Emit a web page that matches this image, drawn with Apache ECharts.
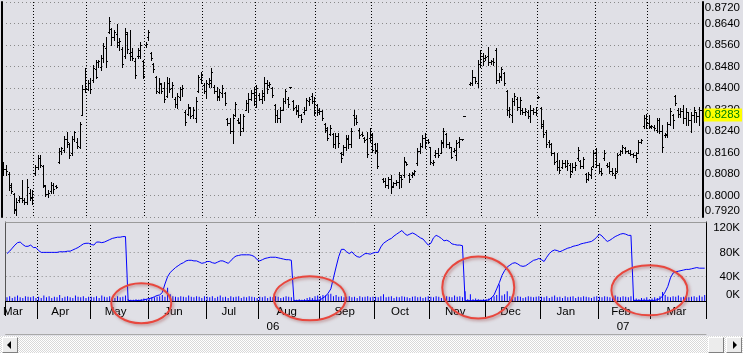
<!DOCTYPE html>
<html>
<head>
<meta charset="utf-8">
<script src="https://cdn.jsdelivr.net/npm/echarts@6/dist/echarts.min.js"></script>
<style>
html, body { margin: 0; padding: 0; background: #e0e0e6; overflow: hidden; }
#chart { width: 743px; height: 336px; }
#sb { position: relative; width: 743px; height: 17px;
      background-color: #f0f0f0;
      background-image: conic-gradient(#ffffff 25%, #d8d8d8 0 50%, #ffffff 0 75%, #d8d8d8 0);
      background-size: 2px 2px; }
#sb .b { position: absolute; top: 1px; width: 14px; height: 14px; background: #ececec;
         border: 1px solid; border-color: #ffffff #808080 #808080 #ffffff; box-sizing: content-box; }
#sb .b i { position: absolute; top: 3px; width: 0; height: 0; border-top: 4px solid transparent; border-bottom: 4px solid transparent; }
#sb .l i { left: 4px; border-right: 4px solid #000; }
#sb .r i { left: 6px; border-left: 4px solid #000; }
</style>
</head>
<body>
<div id="chart"></div>
<div id="sb">
  <div class="b l" style="left:2px"><i></i></div>
  <div class="b" style="left:708px"></div>
  <div class="b r" style="left:726px"><i></i></div>
</div>
<script>
var months = ['Mar', 'Apr', 'May', 'Jun', 'Jul', 'Aug', 'Sep', 'Oct', 'Nov', 'Dec', 'Jan', 'Feb', 'Mar'];
var monthDays = [12, 20, 22, 22, 20, 23, 21, 21, 21, 21, 22, 20, 21];
var years = ['06', '07'];
var yearFirstMonth = [0, 10];

var priceTicks = { min: 0.792, max: 0.872, step: 0.008 };
var volumeTicks = { min: 0, max: 130, step: 40 };

// open, high, low, close per trading day (null = no trade)
var ohlc = [
  [.8110,.8123,.8075,.8100],[.8100,.8113,.8076,.8090],[.8080,.8088,.8020,.8030],[.8040,.8045,.8008,.8015],
  [.8005,.8010,.7935,.7945],[.7950,.7989,.7927,.7975],[.7985,.7998,.7977,.7990],[.7990,.8057,.7977,.7985],
  [.7985,.7989,.7968,.7975],[.7975,.8063,.7970,.8030],[.8010,.8025,.7983,.7995],[.7990,.8020,.7970,.8005],
  // Apr
  [.8085,.8113,.8076,.8105],[.8105,.8150,.8100,.8140],[.8140,.8150,.8107,.8115],[.8110,.8115,.8030,.8040],
  [.8035,.8040,.7998,.8005],[.8005,.8020,.7995,.8010],[.8015,.8050,.8010,.8040],[.8040,.8048,.8010,.8025],
  [.8035,.8040,.8027,.8030],[.8125,.8175,.8120,.8165],[.8165,.8180,.8155,.8175],[.8170,.8220,.8163,.8210],
  [.8210,.8237,.8182,.8200],[.8190,.8195,.8140,.8150],[.8160,.8220,.8150,.8210],[.8210,.8240,.8203,.8235],
  [.8200,.8215,.8175,.8185],[.8180,.8274,.8175,.8265],[.8300,.8411,.8300,.8395],[.8395,.8473,.8386,.8400],
  // May
  [.8395,.8430,.8393,.8420],[.8420,.8436,.8380,.8395],[.8430,.8485,.8423,.8475],[.8470,.8506,.8437,.8440],
  [.8495,.8506,.8479,.8500],[.8480,.8522,.8467,.8510],[.8510,.8566,.8498,.8555],[.8550,.8591,.8480,.8500],
  [.8610,.8665,.8603,.8650],[.8620,.8622,.8560,.8590],[.8590,.8615,.8578,.8610],[.8600,.8640,.8553,.8570],
  [.8560,.8585,.8541,.8575],[.8545,.8553,.8479,.8490],[.8520,.8622,.8510,.8610],[.8600,.8610,.8530,.8545],
  [.8530,.8615,.8504,.8520],[.8535,.8548,.8505,.8510],[.8500,.8510,.8436,.8450],[.8520,.8548,.8510,.8540],
  [.8520,.8572,.8510,.8560],[.8500,.8504,.8436,.8445],
  // Jun
  [.8560,.8572,.8553,.8565],[.8590,.8615,.8578,.8610],[.8530,.8535,.8504,.8510],[.8490,.8492,.8460,.8470],
  [.8440,.8444,.8380,.8390],[.8385,.8436,.8380,.8420],[.8415,.8417,.8380,.8390],[.8400,.8423,.8349,.8360],
  [.8370,.8442,.8367,.8420],[.8420,.8436,.8386,.8395],[.8400,.8423,.8367,.8410],[.8360,.8367,.8330,.8340],
  [.8340,.8380,.8324,.8370],[.8365,.8405,.8355,.8395],[.8395,.8411,.8370,.8400],[.8310,.8318,.8262,.8275],
  [.8305,.8342,.8300,.8330],[.8325,.8330,.8287,.8295],[.8300,.8330,.8287,.8320],[.8290,.8367,.8275,.8350],
  [.8390,.8448,.8386,.8440],[.8435,.8460,.8417,.8450],
  // Jul
  [.8410,.8417,.8380,.8390],[.8390,.8430,.8361,.8420],[.8415,.8436,.8405,.8430],[.8420,.8473,.8405,.8460],
  [.8405,.8411,.8380,.8390],[.8390,.8405,.8355,.8365],[.8370,.8398,.8355,.8385],[.8380,.8411,.8367,.8400],
  [.8380,.8386,.8336,.8345],[.8285,.8287,.8262,.8270],[.8270,.8287,.8231,.8240],[.8240,.8305,.8194,.8290],
  [.8300,.8349,.8295,.8340],[.8280,.8287,.8268,.8275],[.8270,.8305,.8225,.8240],[.8250,.8305,.8240,.8295],
  [.8320,.8355,.8318,.8345],[.8345,.8380,.8312,.8360],[.8360,.8392,.8355,.8380],[.8380,.8405,.8336,.8350],
  // Aug
  [.8340,.8411,.8330,.8400],[.8375,.8380,.8355,.8360],[.8360,.8392,.8343,.8380],[.8370,.8442,.8355,.8420],
  [.8420,.8430,.8380,.8395],[.8410,.8423,.8405,.8415],[.8400,.8405,.8367,.8375],[.8335,.8342,.8275,.8300],
  [.8300,.8318,.8275,.8290],[.8290,.8330,.8275,.8320],[.8320,.8361,.8318,.8350],[.8350,.8398,.8343,.8390],
  [.8360,.8367,.8330,.8340],[.8402,.8403,.8401,.8402],[.8350,.8355,.8318,.8325],[.8330,.8336,.8305,.8315],
  [.8320,.8336,.8293,.8300],[.8300,.8305,.8275,.8285],[.8310,.8330,.8305,.8320],[.8320,.8361,.8318,.8355],
  [.8350,.8367,.8336,.8360],[.8370,.8380,.8343,.8350],[.8350,.8367,.8300,.8310],
  // Sep
  [.8335,.8342,.8300,.8310],[.8320,.8324,.8305,.8315],[.8315,.8318,.8281,.8290],[.8265,.8269,.8238,.8245],
  [.8250,.8256,.8206,.8215],[.8230,.8262,.8225,.8250],[.8230,.8232,.8181,.8190],[.8190,.8232,.8175,.8220],
  [.8220,.8232,.8181,.8195],[.8160,.8163,.8126,.8140],[.8155,.8188,.8150,.8180],[.8180,.8225,.8169,.8215],
  [.8210,.8225,.8175,.8190],[.8190,.8251,.8181,.8240],[.8300,.8318,.8262,.8290],[.8290,.8300,.8265,.8275],
  [.8245,.8250,.8213,.8225],[.8230,.8237,.8220,.8225],[.8215,.8219,.8200,.8205],[.8210,.8237,.8144,.8155],
  [.8215,.8250,.8200,.8240],
  // Oct
  [.8225,.8231,.8163,.8170],[.8190,.8194,.8157,.8165],[.8170,.8194,.8101,.8110],null,
  [.8060,.8064,.8051,.8055],[.8055,.8064,.8033,.8040],[.8040,.8070,.8027,.8060],[.8060,.8076,.8008,.8030],
  [.8035,.8051,.8033,.8045],[.8045,.8057,.8039,.8050],[.8050,.8088,.8027,.8075],[.8070,.8076,.8033,.8060],
  [.8075,.8144,.8070,.8130],[.8125,.8126,.8113,.8118],[.8075,.8082,.8051,.8060],[.8075,.8088,.8070,.8085],
  [.8080,.8094,.8076,.8090],[.8120,.8175,.8113,.8165],[.8165,.8194,.8157,.8185],[.8185,.8225,.8181,.8215],
  [.8215,.8231,.8175,.8200],
  // Nov
  [.8205,.8212,.8194,.8200],[.8180,.8181,.8119,.8125],[.8120,.8132,.8113,.8125],[.8150,.8169,.8144,.8160],
  [.8160,.8175,.8144,.8150],[.8160,.8206,.8157,.8200],[.8195,.8250,.8181,.8240],[.8230,.8231,.8181,.8190],
  [.8190,.8200,.8175,.8180],[.8180,.8181,.8138,.8145],[.8165,.8175,.8163,.8170],[.8150,.8206,.8132,.8195],
  [.8200,.8219,.8181,.8210],[.8210,.8212,.8206,.8210],[.8296,.8297,.8295,.8296],null,
  [.8415,.8423,.8411,.8420],[.8420,.8467,.8411,.8440],[.8440,.8442,.8417,.8425],[.8420,.8504,.8405,.8490],
  [.8490,.8541,.8479,.8530],
  // Dec
  [.8520,.8529,.8485,.8500],[.8510,.8522,.8504,.8515],[.8520,.8553,.8485,.8495],[.8495,.8504,.8491,.8500],
  [.8500,.8510,.8485,.8495],[.8540,.8547,.8417,.8430],[.8430,.8454,.8423,.8445],[.8440,.8479,.8429,.8470],
  [.8455,.8460,.8411,.8420],[.8390,.8392,.8299,.8320],[.8320,.8330,.8293,.8305],[.8300,.8361,.8275,.8350],
  [.8350,.8380,.8336,.8370],[.8360,.8367,.8318,.8330],[.8330,.8367,.8305,.8355],[.8320,.8324,.8305,.8310],
  [.8310,.8324,.8299,.8315],[.8310,.8318,.8287,.8295],[.8295,.8336,.8275,.8320],[.8320,.8324,.8305,.8310],
  [.8310,.8330,.8299,.8320],
  // Jan
  [.8367,.8370,.8362,.8367],[.8325,.8330,.8250,.8260],[.8265,.8281,.8219,.8230],[.8235,.8243,.8181,.8190],
  [.8200,.8206,.8181,.8190],[.8190,.8194,.8150,.8160],[.8160,.8163,.8119,.8125],[.8130,.8157,.8095,.8105],
  [.8105,.8132,.8082,.8095],[.8105,.8132,.8101,.8120],[.8120,.8132,.8107,.8110],[.8110,.8132,.8095,.8120],
  [.8115,.8120,.8070,.8080],[.8090,.8120,.8088,.8105],[.8105,.8126,.8095,.8115],[.8140,.8181,.8132,.8170],
  [.8130,.8132,.8101,.8110],[.8110,.8144,.8101,.8135],[.8080,.8082,.8051,.8060],[.8060,.8088,.8057,.8080],
  [.8075,.8107,.8064,.8100],[.8110,.8169,.8107,.8160],
  // Feb
  [.8160,.8175,.8107,.8115],[.8115,.8120,.8082,.8090],[.8090,.8101,.8076,.8085],[.8140,.8169,.8132,.8160],
  [.8115,.8120,.8107,.8110],[.8110,.8126,.8082,.8090],[.8090,.8101,.8076,.8085],[.8075,.8101,.8064,.8085],
  [.8090,.8157,.8088,.8150],[.8155,.8169,.8150,.8165],[.8165,.8188,.8157,.8180],[.8175,.8181,.8157,.8165],
  [.8165,.8169,.8157,.8160],[.8160,.8169,.8150,.8155],[.8155,.8157,.8144,.8150],[.8150,.8163,.8126,.8140],
  [.8160,.8206,.8157,.8200],[.8200,.8212,.8194,.8205],[.8260,.8299,.8250,.8290],[.8290,.8305,.8250,.8270],
  // Mar
  [.8270,.8299,.8250,.8260],[.8255,.8262,.8250,.8258],[.8255,.8262,.8243,.8250],[.8245,.8287,.8237,.8280],
  [.8280,.8287,.8231,.8240],[.8240,.8262,.8163,.8180],[.8225,.8231,.8219,.8228],[.8225,.8274,.8219,.8265],
  [.8265,.8324,.8262,.8315],[.8300,.8305,.8250,.8280],[.8370,.8374,.8336,.8345],[.8320,.8324,.8293,.8305],
  [.8305,.8324,.8293,.8315],[.8315,.8336,.8268,.8290],[.8290,.8324,.8262,.8310],[.8310,.8311,.8262,.8280],
  [.8280,.8311,.8237,.8300],[.8300,.8330,.8274,.8320],[.8310,.8311,.8274,.8295],[.8295,.8330,.8262,.8320],
  [.8320,.8330,.8225,.8283]
];

// volume, thousands of contracts
var volume = [
  6,8,5,7,9,6,5,8,7,6,8,5,
  7,5,9,6,8,5,7,6,10,5,7,8,6,5,9,7,6,8,5,7,
  7,6,8,5,9,7,6,8,7,5,8,6,7,9,3,2,2,3,2,3,4,3,
  4,6,6,7,8,10,7,22,11,8,7,6,8,7,6,9,7,6,8,7,5,8,
  7,6,8,5,7,9,6,7,5,8,6,7,8,5,7,6,8,7,6,5,
  7,6,8,5,7,6,8,7,5,6,8,7,6,2,2,3,2,3,5,6,5,8,9,
  8,10,9,11,12,8,10,7,8,6,7,8,6,7,5,8,6,7,8,6,7,
  7,6,8,11,6,7,8,5,7,6,8,7,6,5,7,8,6,7,5,6,8,
  7,6,8,7,5,6,8,7,6,9,7,8,6,16,3,11,3,4,3,2,3,
  3,4,6,8,10,27,9,11,16,8,7,6,8,7,5,6,8,7,6,7,8,
  7,6,8,5,7,9,6,7,5,8,6,7,8,5,7,6,8,7,6,5,7,8,
  7,6,8,7,6,8,9,7,6,8,7,6,8,3,4,3,5,4,6,3,
  4,6,5,8,15,10,7,6,8,7,9,6,7,8,6,7,8,6,9,7,10
];

// open interest, thousands of contracts
var openInterest = [
  78,82,87,92,96,97,93,90,90,92,88,88,
  83,80,80,80,80,80,80,80,81,81,81,82,82,84,86,88,91,94,95,95,
  93,92,97,97,96,97,99,101,103,104,105,105,106,106,1,0.5,0.5,0.5,1,1,2,3,
  4,5,7,9,10,14,28,40,47,51,55,58,61,63,66,67,67,66,66,64,62,63,
  65,65,63,62,64,66,66,64,62,66,71,74,75,76,76,76,76,75,73,68,
  66,68,70,71,72,72,72,71,70,69,68,68,67,0.5,0.5,0.5,0.5,0.5,0.5,1,1,1,1,
  2,5,8,13,20,38,56,73,85,85,81,78,81,76,73,72,75,78,78,77,79,
  80,80,89,95,98,101,103,107,110,113,116,111,108,110,112,110,107,104,102,97,92,
  95,104,108,106,103,99,100,98,94,93,92,92,91,0.5,0.5,0.5,0.5,0.5,1,1,1,
  1,2,5,10,20,30,42,50,56,59,62,63,61,58,57,58,61,64,67,68,70,
  68,65,72,78,82,84,83,81,83,85,87,88,90,91,92,94,95,96,97,98,101,105,
  110,107,102,98,100,103,106,108,110,111,110,108,108,1,1,1,1,1,1,1,
  1,1,2,4,8,15,24,38,46,48,49,50,51,52,52,53,54,55,54,54,54
];

// hand-drawn circles round the contract rolls: [day index, volume value], radii in px
var rollMarks = [[51.3, -3.8], [114.9, 4.4], [179, 22.2], [243.5, 17.6]];
var rollRadius = [[30, 20], [36, 22], [36, 31], [38, 25]];

var categories = [];
var monthStart = {};
var monthLabel = {};
var yearStart = {};
var yearLabel = {};
var n = 0;
months.forEach(function (m, k) {
    var yi = k >= yearFirstMonth[1] ? 1 : 0;
    if (k > 0) monthStart[n] = true;
    if (k === yearFirstMonth[1]) yearStart[n] = true;
    monthLabel[k === 0 ? 3 : n + Math.floor((monthDays[k] - 1) / 2)] = m;
    for (var d = 0; d < monthDays[k]; d++) {
        categories.push(m + ' ' + years[yi] + ' ' + (d + 1));
    }
    n += monthDays[k];
});
monthStart[n] = true;
var firstOf07 = Object.keys(yearStart).map(Number)[0];
yearLabel[Math.floor((firstOf07 - 1) / 2)] = years[0];
yearLabel[firstOf07 + Math.floor((n - 1 - firstOf07) / 2)] = years[1];

var bars = [];
var closes = [];
ohlc.forEach(function (d, i) {
    if (d) bars.push([i, d[0], d[1], d[2], d[3]]);
    closes.push(d ? d[3] : null);
});
var lastClose = ohlc[ohlc.length - 1][3];

var font = { fontFamily: 'Liberation Sans, Arial, sans-serif', fontSize: 11.5, color: '#000' };
var dotGray = { color: '#8a8a8a', type: [1, 3], width: 1 };
var dotBlack = { color: '#000', type: [1, 2], width: 1 };
var clear = 'rgba(0,0,0,0)';

function renderBar(params, api) {
    var i = api.value(0);
    var x = Math.round(api.coord([i, lastClose])[0]);
    var hi = Math.round(api.coord([i, api.value(2)])[1]);
    var lo = Math.round(api.coord([i, api.value(3)])[1]);
    var op = Math.round(api.coord([i, api.value(1)])[1]) + 0.5;
    var cl = Math.round(api.coord([i, api.value(4)])[1]) + 0.5;
    var style = { stroke: '#000', lineWidth: 1 };
    return {
        type: 'group',
        children: [
            { type: 'line', shape: { x1: x + 0.5, y1: hi, x2: x + 0.5, y2: lo + 1 }, style: style },
            { type: 'line', shape: { x1: x - 1, y1: op, x2: x, y2: op }, style: style },
            { type: 'line', shape: { x1: x + 1, y1: cl, x2: x + 2, y2: cl }, style: style }
        ]
    };
}

function hiddenX(grid, position, offset, lineColor) {
    return {
        type: 'category', gridIndex: grid, data: categories, position: position, offset: offset || 0,
        axisLine: { show: !!lineColor, lineStyle: { color: lineColor || '#000', width: 1 } },
        axisTick: { show: false }, axisLabel: { show: false }, splitLine: { show: false }
    };
}

var chart = echarts.init(document.getElementById('chart'));
chart.setOption({
    animation: false,
    backgroundColor: '#e0e0e6',
    grid: [
        { left: 2, top: 2, width: 704, height: 215 },
        { left: 2, top: 222, width: 704, height: 79 }
    ],
    xAxis: [
        {
            type: 'category', gridIndex: 0, data: categories,
            axisLine: { show: false }, axisTick: { show: false }, axisLabel: { show: false },
            splitLine: { show: true, interval: function (i) { return !!monthStart[i] && i < n; }, lineStyle: dotBlack }
        },
        {
            type: 'category', gridIndex: 1, data: categories,
            axisLine: { show: true, lineStyle: { color: '#000', width: 1 } },
            axisTick: { show: true, length: 18, interval: function (i) { return !!monthStart[i]; }, lineStyle: { color: '#000' } },
            axisLabel: Object.assign({
                interval: function (i) { return monthLabel[i] !== undefined; },
                formatter: function (v, i) { return monthLabel[i] || ''; },
                margin: 5, padding: [0, 4, 0, 0]
            }, font),
            splitLine: { show: true, interval: function (i) { return !!monthStart[i] && i < n; }, lineStyle: dotBlack }
        },
        {
            type: 'category', gridIndex: 1, data: categories, position: 'bottom', offset: 18,
            axisLine: { show: true, lineStyle: { color: '#000', width: 1 } },
            axisTick: { show: true, length: 15, interval: function (i) { return !!yearStart[i]; }, lineStyle: { color: '#000' } },
            axisLabel: Object.assign({
                interval: function (i) { return yearLabel[i] !== undefined; },
                formatter: function (v, i) { return yearLabel[i] || ''; },
                margin: 2
            }, font),
            splitLine: { show: false }
        },
        hiddenX(1, 'top', 0, '#9a9a9a'),
        hiddenX(1, 'bottom', 33, '#a8a8a8')
    ],
    yAxis: [
        {
            type: 'value', gridIndex: 0, position: 'right',
            min: priceTicks.min, max: priceTicks.max, interval: priceTicks.step,
            axisLine: { show: true, lineStyle: { color: '#000', width: 2 } },
            axisTick: { show: false },
            axisLabel: Object.assign({
                margin: 2,
                formatter: function (v) { return v.toFixed(4); },
                verticalAlignMaxLabel: 'top', verticalAlignMinLabel: 'bottom'
            }, font),
            splitLine: { show: true, lineStyle: dotGray }
        },
        {
            type: 'value', gridIndex: 0, position: 'left',
            axisLine: { show: true, lineStyle: { color: '#000', width: 2 } },
            axisTick: { show: false }, axisLabel: { show: false }, splitLine: { show: false }
        },
        {
            type: 'value', gridIndex: 1, position: 'right',
            min: volumeTicks.min, max: volumeTicks.max, interval: volumeTicks.step,
            axisLine: { show: true, lineStyle: { color: '#000', width: 1 } },
            axisTick: { show: false },
            axisLabel: Object.assign({
                margin: 34, align: 'right',
                formatter: function (v) { return v % volumeTicks.step === 0 ? v + 'K' : ''; },
                verticalAlignMinLabel: 'bottom'
            }, font),
            splitLine: {
                show: true,
                lineStyle: { color: [clear, '#8a8a8a', '#8a8a8a', clear, clear], type: [1, 3], width: 1 }
            }
        },
        {
            type: 'value', gridIndex: 1, position: 'left',
            axisLine: { show: true, lineStyle: { color: '#555', width: 1 } },
            axisTick: { show: false }, axisLabel: { show: false }, splitLine: { show: false }
        }
    ],
    series: [
        {
            type: 'custom', name: 'Price', xAxisIndex: 0, yAxisIndex: 0,
            renderItem: renderBar, data: bars,
            encode: { x: 0, y: [1, 2, 3, 4] }
        },
        {
            // carries the last-price tag on the price axis
            type: 'line', name: 'Close', xAxisIndex: 0, yAxisIndex: 0,
            data: closes, showSymbol: false, symbol: 'none', silent: true, clip: false,
            lineStyle: { color: clear },
            markLine: {
                silent: true, symbol: 'none',
                lineStyle: { color: clear, width: 1 },
                data: [{ yAxis: lastClose }],
                label: {
                    show: true, position: 'end', distance: 1, formatter: lastClose.toFixed(4),
                    backgroundColor: '#ffff00', color: '#008000', padding: [1, 2, 0, 1],
                    fontFamily: font.fontFamily, fontSize: font.fontSize
                }
            }
        },
        {
            type: 'bar', name: 'Volume', xAxisIndex: 1, yAxisIndex: 2,
            data: volume, barWidth: 1, itemStyle: { color: '#0000ff' }
        },
        {
            type: 'line', name: 'Open interest', xAxisIndex: 1, yAxisIndex: 2,
            data: openInterest, showSymbol: false, symbol: 'none',
            lineStyle: { color: '#0000ff', width: 1 }
        }
    ]
});

chart.setOption({
    graphic: rollMarks.map(function (p, k) {
        var c = chart.convertToPixel({ gridIndex: 1 }, p);
        return {
            type: 'ellipse', silent: true, z: 100,
            shape: { cx: c[0], cy: c[1], rx: rollRadius[k][0], ry: rollRadius[k][1] },
            style: {
                fill: 'none', stroke: '#e8473e', lineWidth: 2,
                shadowBlur: 3, shadowColor: 'rgba(150,60,60,0.5)', shadowOffsetX: 1.5, shadowOffsetY: 1.5
            }
        };
    })
});
</script>
</body>
</html>
